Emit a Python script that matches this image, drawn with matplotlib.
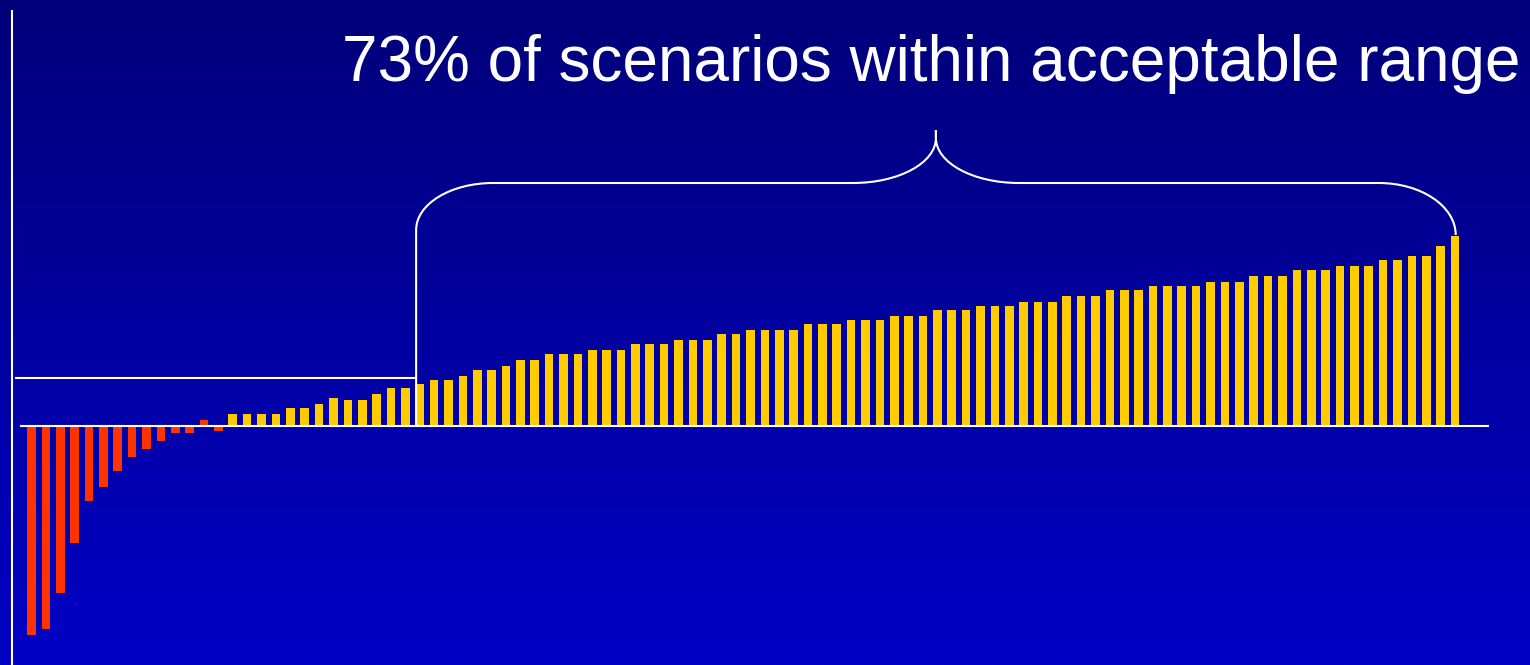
import numpy as np
import matplotlib
matplotlib.use("Agg")
import matplotlib.pyplot as plt
from matplotlib.colors import LinearSegmentedColormap
from matplotlib.path import Path
from matplotlib.patches import PathPatch

# Scenario outcomes, sorted from worst to best (arbitrary units)
loss_values = [-209, -203, -167, -117, -75, -61, -45, -31, -23, -15, -7, -7, 6, -5]
gain_values = [12, 12, 12, 12, 18, 18, 22, 28, 26, 26, 32, 38, 38,
               42, 46, 46, 50, 56, 56, 60, 66, 66, 72, 72, 72, 76, 76, 76,
               82, 82, 82, 86, 86, 86, 92, 92, 96, 96, 96, 96,
               102, 102, 102, 106, 106, 106, 110, 110, 110, 116, 116, 116,
               120, 120, 120, 124, 124, 124, 130, 130, 130, 136, 136, 136,
               140, 140, 140, 140, 144, 144, 144, 150, 150, 150,
               156, 156, 156, 160, 160, 160, 166, 166, 170, 170, 180, 190]
threshold = 48
n_outside = 27  # scenarios below the acceptable range
title = "73% of scenarios within acceptable range"

RED = "#FF3300"
YELLOW = "#FFCC00"
WHITE = "white"

W, H = 1530, 665
fig = plt.figure(figsize=(W / 100, H / 100), dpi=100)
ax = fig.add_axes([0, 0, 1, 1])

n = len(loss_values) + len(gain_values)
step_px = (1455 - 31.5) / (n - 1)
xmin = -31.5 / step_px
xmax = xmin + W / step_px
ymin, ymax = -239, 426
ax.set_xlim(xmin, xmax)
ax.set_ylim(ymin, ymax)
ax.axis("off")

# Slide background: dark navy at top fading to brighter blue
grad = np.linspace(0, 1, 256).reshape(-1, 1)
cmap = LinearSegmentedColormap.from_list("slide", ["#00007A", "#0000C6"])
ax.imshow(grad, cmap=cmap, aspect="auto", extent=[xmin, xmax, ymin, ymax],
          origin="upper", zorder=0)

x_loss = np.arange(len(loss_values))
x_gain = np.arange(len(loss_values), n)
ax.bar(x_loss, loss_values, width=0.6, color=RED, linewidth=0, zorder=2)
ax.bar(x_gain, gain_values, width=0.6, color=YELLOW, linewidth=0, zorder=2)

px = 1.0 / step_px  # one pixel in x data units
lw = 1.5

# Vertical axis and zero baseline
ax.plot([xmin + 12 * px] * 2, [ymin, ymax - 10], color=WHITE, lw=lw,
        solid_capstyle="butt", zorder=3)
ax.plot([xmin + 20 * px, xmin + 1489 * px], [0, 0], color=WHITE, lw=lw,
        solid_capstyle="butt", zorder=3)

# Brace spanning the acceptable scenarios
L = n_outside - 0.25
R = n - 1 + 0.05
M = (L + R) / 2
y_bar = 243
y_tip = 296
y_left = 196
y_right = max(gain_values) + 1
k = 0.5523
rx1, rx2 = 77 * px, 83 * px
ry1 = y_bar - y_left
ry2 = y_tip - 8 - y_bar
ry3 = y_bar - y_right

verts = [
    (L, 0), (L, y_left),
    (L, y_left + k * ry1), (L + rx1 - k * rx1, y_bar), (L + rx1, y_bar),
    (M - rx2, y_bar),
    (M - rx2 + k * rx2, y_bar), (M, y_tip - 8 - k * ry2), (M, y_tip - 8),
    (M, y_tip),
    (M, y_tip - 8),
    (M, y_tip - 8 - k * ry2), (M + rx2 - k * rx2, y_bar), (M + rx2, y_bar),
    (R - rx1, y_bar),
    (R - rx1 + k * rx1, y_bar), (R, y_right + k * ry3), (R, y_right),
]
codes = [Path.MOVETO, Path.LINETO,
         Path.CURVE4, Path.CURVE4, Path.CURVE4,
         Path.LINETO,
         Path.CURVE4, Path.CURVE4, Path.CURVE4,
         Path.LINETO,
         Path.LINETO,
         Path.CURVE4, Path.CURVE4, Path.CURVE4,
         Path.LINETO,
         Path.CURVE4, Path.CURVE4, Path.CURVE4]
ax.add_patch(PathPatch(Path(verts, codes), facecolor="none", edgecolor=WHITE,
                       lw=lw, zorder=3))

# Acceptability threshold
ax.plot([xmin + 15 * px, L], [threshold, threshold], color=WHITE, lw=lw,
        solid_capstyle="butt", zorder=3)

fig.text(1520 / W, 1 - 81 / H, title, ha="right", va="baseline",
         color=WHITE, fontsize=46, family=["Liberation Sans", "DejaVu Sans"])

fig.savefig("out.png", dpi=100)
